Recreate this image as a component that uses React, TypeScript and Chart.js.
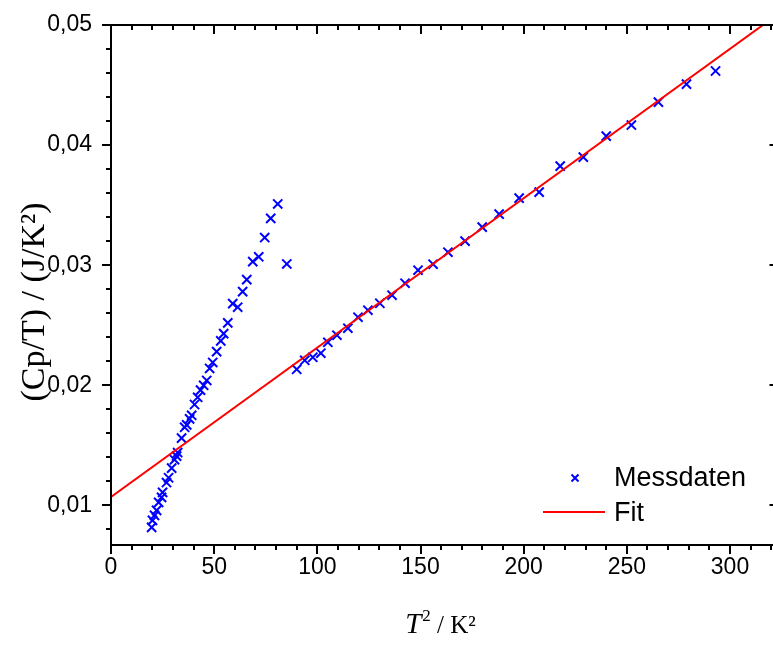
import React, { useEffect, useRef } from 'react';
import { Chart, registerables } from 'chart.js';

Chart.register(...registerables);

// Measured data: T^2 in K^2, Cp/T in J/K^2
const t2Values = [
  19.7, 20.1, 21.1, 22.1, 23.1, 24.5, 25.0, 26.9, 27.9, 29.4,
  30.8, 31.8, 32.3, 34.2, 35.7, 36.7, 38.1, 39.1, 40.5, 42.0,
  43.4, 44.9, 46.4, 47.8, 49.3, 51.2, 53.2, 54.6, 56.6, 59.0,
  61.4, 63.8, 65.8, 68.7, 71.6, 74.5, 77.4, 80.8, 85.2,
  90.0, 93.9, 97.8, 101.7, 105.1, 109.5, 114.8, 119.7, 124.5, 130.3,
  136.2, 142.5, 148.8, 156.1, 163.3, 171.6, 179.9, 188.1, 197.8, 207.5,
  217.7, 228.9, 240.0, 252.2, 265.3, 278.9, 293.0,
];
const cpTValues = [
  0.00817, 0.00875, 0.00917, 0.00958, 0.01025, 0.01067, 0.01108, 0.0119, 0.0123, 0.0131,
  0.0138, 0.0141, 0.0144, 0.0156, 0.0165, 0.0167, 0.0172, 0.0175, 0.0184, 0.0190,
  0.0196, 0.0200, 0.0204, 0.0214, 0.0219, 0.0228, 0.0237, 0.0243, 0.0252, 0.0268,
  0.0265, 0.0278, 0.0288, 0.0303, 0.0307, 0.0323, 0.0339, 0.0351, 0.0301,
  0.02133, 0.02208, 0.02233, 0.02267, 0.02358, 0.02417, 0.02475, 0.02567, 0.02625, 0.02683,
  0.0275, 0.0285, 0.02958, 0.03008, 0.03108, 0.0320, 0.03317, 0.03425, 0.03558, 0.03608,
  0.03825, 0.0390, 0.04075, 0.04167, 0.04358, 0.04508, 0.04617,
];

// Linear fit line end points
const fitT2 = [0, 324];
const fitCpT = [0.0107, 0.0510];

// Axes
const xMajorTicks = [0, 50, 100, 150, 200, 250, 300];
const xTickLabels = ['0', '50', '100', '150', '200', '250', '300'];
const yMajorTicks = [0.01, 0.02, 0.03, 0.04, 0.05];
const yTickLabels = ['0,01', '0,02', '0,03', '0,04', '0,05'];
const xRange = [0, 323.5];
const yRange = [0.0067, 0.05];
const xMinorStep = 10;
const yMinorStep = 0.002;

const seriesLabels = ['Messdaten', 'Fit'];
const yTitle = '(Cp/T) / (J/K²)';

const SANS = '"Liberation Sans", Arial, Helvetica, sans-serif';
const SERIF = '"Liberation Serif", "Times New Roman", Times, serif';
const BLUE = '#0000ff';
const RED = '#ff0000';

function isMajor(v: number, majors: number[]) {
  return majors.some((m) => Math.abs(m - v) < 1e-9);
}

function zeroPadding(s: any) {
  s.paddingLeft = 0;
  s.paddingRight = 0;
  s.paddingTop = 0;
  s.paddingBottom = 0;
}

const framePlugin = {
  id: 'frameAndTitles',
  afterDraw(chart: any) {
    const { ctx, chartArea } = chart;
    const { left, right, top, bottom } = chartArea;
    const xs = chart.scales.x;
    const ys = chart.scales.y;
    ctx.save();
    ctx.strokeStyle = '#000';
    ctx.lineWidth = 2;
    ctx.lineCap = 'butt';

    // frame
    ctx.beginPath();
    ctx.moveTo(left, top);
    ctx.lineTo(right, top);
    ctx.moveTo(left, top - 1);
    ctx.lineTo(left, bottom + 1);
    ctx.moveTo(left - 1, bottom);
    ctx.lineTo(right, bottom);
    ctx.moveTo(right, top);
    ctx.lineTo(right, bottom);
    ctx.stroke();

    const MAJ = 9;
    const MIN = 5;
    ctx.beginPath();
    const xStart = Math.ceil(xRange[0] / xMinorStep) * xMinorStep;
    for (let v = xStart; v <= xRange[1] + 1e-9; v += xMinorStep) {
      const vv = Math.round(v * 1000) / 1000;
      const px = Math.round(xs.getPixelForValue(vv));
      const len = isMajor(vv, xMajorTicks) ? MAJ : MIN;
      ctx.moveTo(px, bottom);
      ctx.lineTo(px, bottom + len);
      ctx.moveTo(px, top);
      ctx.lineTo(px, top + len);
    }
    const yStart = Math.ceil(yRange[0] / yMinorStep - 1e-9) * yMinorStep;
    for (let v = yStart; v <= yRange[1] + 1e-9; v += yMinorStep) {
      const vv = Math.round(v * 100000) / 100000;
      const py = Math.round(ys.getPixelForValue(vv));
      const major = isMajor(vv, yMajorTicks);
      const len = major ? MAJ : MIN;
      ctx.moveTo(left, py);
      ctx.lineTo(left - len, py);
      ctx.moveTo(right, py);
      ctx.lineTo(right - (major ? MAJ : 4), py);
    }
    ctx.stroke();

    // y title
    ctx.fillStyle = '#000';
    ctx.textBaseline = 'alphabetic';
    ctx.save();
    ctx.translate(44, 302);
    ctx.rotate(-Math.PI / 2);
    ctx.font = `34px ${SERIF}`;
    ctx.textAlign = 'center';
    ctx.fillText(yTitle, 0, 0);
    ctx.restore();

    // x title: italic T, superscript 2, " / K²"
    const cx = 440;
    const baseY = 633;
    ctx.font = `italic 29px ${SERIF}`;
    const wT = ctx.measureText('T').width;
    ctx.font = `17px ${SERIF}`;
    const w2 = ctx.measureText('2').width;
    ctx.font = `25px ${SERIF}`;
    const rest = ' / K²';
    const wRest = ctx.measureText(rest).width;
    let x0 = cx - (wT + w2 + wRest) / 2;
    ctx.textAlign = 'left';
    ctx.font = `italic 29px ${SERIF}`;
    ctx.fillText('T', x0, baseY);
    x0 += wT + 1;
    ctx.font = `17px ${SERIF}`;
    ctx.fillText('2', x0, baseY - 12);
    x0 += w2;
    ctx.font = `25px ${SERIF}`;
    ctx.fillText(rest, x0, baseY);

    // legend
    const mx = 575;
    const my = 478;
    ctx.strokeStyle = BLUE;
    ctx.lineWidth = 2;
    ctx.beginPath();
    const r = 3.5;
    ctx.moveTo(mx - r, my - r);
    ctx.lineTo(mx + r, my + r);
    ctx.moveTo(mx + r, my - r);
    ctx.lineTo(mx - r, my + r);
    ctx.stroke();
    const ly = 512;
    ctx.strokeStyle = RED;
    ctx.beginPath();
    ctx.moveTo(543, ly);
    ctx.lineTo(605, ly);
    ctx.stroke();
    ctx.fillStyle = '#000';
    ctx.font = `27px ${SANS}`;
    ctx.textBaseline = 'middle';
    ctx.textAlign = 'left';
    ctx.fillText(seriesLabels[0], 614, my + 1);
    ctx.fillText(seriesLabels[1], 614, ly + 2);
    ctx.restore();
  },
};

export default function App() {
  const canvasRef = useRef<HTMLCanvasElement | null>(null);

  useEffect(() => {
    const canvas = canvasRef.current;
    if (!canvas) return;
    const chart = new Chart(canvas, {
      type: 'scatter',
      data: {
        datasets: [
          {
            label: seriesLabels[0],
            data: t2Values.map((x, i) => ({ x, y: cpTValues[i] })),
            pointStyle: 'crossRot',
            pointRadius: 6.5,
            pointHoverRadius: 6.5,
            pointBorderWidth: 2,
            borderColor: BLUE,
            backgroundColor: BLUE,
            showLine: false,
            order: 1,
          },
          {
            label: seriesLabels[1],
            data: fitT2.map((x, i) => ({ x, y: fitCpT[i] })),
            showLine: true,
            borderColor: RED,
            backgroundColor: RED,
            borderWidth: 2,
            pointRadius: 0,
            pointHoverRadius: 0,
            order: 0,
          },
        ],
      },
      options: {
        animation: false,
        responsive: false,
        events: [],
        layout: { padding: { top: 25, right: 2, left: 0, bottom: 0 } },
        plugins: {
          legend: { display: false },
          tooltip: { enabled: false },
          title: { display: false },
        },
        scales: {
          x: {
            type: 'linear',
            min: xRange[0],
            max: xRange[1],
            grid: { display: false, drawTicks: false },
            border: { display: false },
            ticks: {
              color: '#000',
              font: { family: SANS, size: 23 },
              padding: 9,
              maxRotation: 0,
              autoSkip: false,
              includeBounds: false,
              callback: (v: any) => {
                const i = xMajorTicks.findIndex((m) => Math.abs(m - Number(v)) < 1e-9);
                return i >= 0 ? xTickLabels[i] : '';
              },
            },
            afterBuildTicks: (s: any) => {
              s.ticks = xMajorTicks.map((v) => ({ value: v }));
            },
            afterFit: (s: any) => {
              s.height = 104;
              zeroPadding(s);
            },
          },
          y: {
            type: 'linear',
            min: yRange[0],
            max: yRange[1],
            grid: { display: false, drawTicks: false },
            border: { display: false },
            ticks: {
              color: '#000',
              font: { family: SANS, size: 23 },
              padding: 19,
              autoSkip: false,
              includeBounds: false,
              callback: (v: any) => {
                const i = yMajorTicks.findIndex((m) => Math.abs(m - Number(v)) < 1e-9);
                return i >= 0 ? yTickLabels[i] : '';
              },
            },
            afterBuildTicks: (s: any) => {
              s.ticks = yMajorTicks.map((v) => ({ value: v }));
            },
            afterFit: (s: any) => {
              s.width = 111;
              zeroPadding(s);
            },
          },
        },
      },
      plugins: [framePlugin],
    });
    return () => chart.destroy();
  }, []);

  return (
    <div
      style={{
        position: 'fixed',
        left: 0,
        top: 0,
        width: 773,
        height: 649,
        overflow: 'hidden',
        background: '#fff',
      }}
    >
      <canvas ref={canvasRef} width={787} height={649} style={{ display: 'block' }} />
    </div>
  );
}
